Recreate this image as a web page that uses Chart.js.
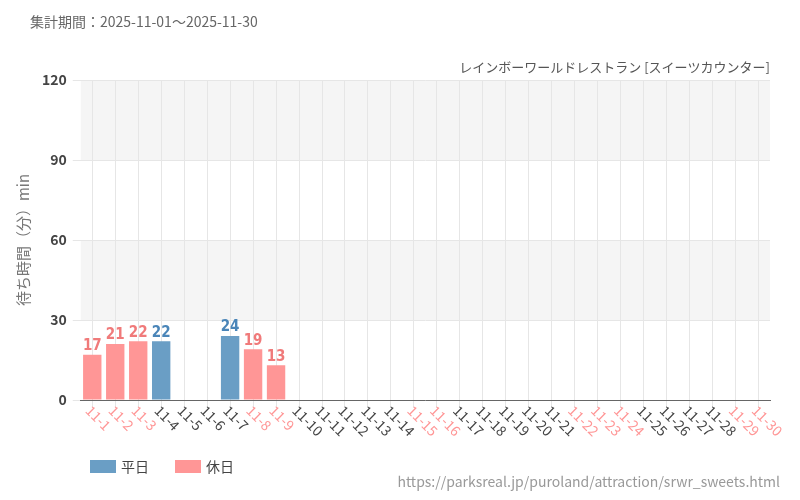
<!DOCTYPE html>
<html><head><meta charset="utf-8">
<script src="https://cdn.jsdelivr.net/npm/chart.js@4"></script>
<style>body{margin:0;background:#fff}#w{width:800px;height:500px}</style>
</head><body><div id="w"><canvas id="c"></canvas></div>
<script>
const categories=["11-1","11-2","11-3","11-4","11-5","11-6","11-7","11-8","11-9","11-10","11-11","11-12","11-13","11-14","11-15","11-16","11-17","11-18","11-19","11-20","11-21","11-22","11-23","11-24","11-25","11-26","11-27","11-28","11-29","11-30"];
const holidays=["11-1","11-2","11-3","11-8","11-9","11-15","11-16","11-22","11-23","11-24","11-29","11-30"];
const weekdayValues=[null,null,null,22,null,null,24,null,null,null,null,null,null,null,null,null,null,null,null,null,null,null,null,null,null,null,null,null,null,null];
const holidayValues=[17,21,22,null,null,null,null,19,13,null,null,null,null,null,null,null,null,null,null,null,null,null,null,null,null,null,null,null,null,null];
const yTicks=[0,30,60,90,120];
const BLUE='#6a9ec5',PINK='#ff9696',LBLUE='#4a85b8',LPINK='#f07a7a';
const F='"Noto Sans CJK JP","Noto Sans",sans-serif';
const deco={id:'deco',
beforeDraw(ch){const a=ch.chartArea,y=ch.scales.y,c=ch.ctx;c.save();c.fillStyle='#f5f5f5';
[[90,120],[30,60]].forEach(([l,h])=>{c.fillRect(a.left,y.getPixelForValue(h),a.right-a.left,y.getPixelForValue(l)-y.getPixelForValue(h));});c.restore();},
afterDraw(ch){const c=ch.ctx,x=ch.scales.x,a=ch.chartArea;c.save();
c.font='14px '+F;c.fillStyle='#666';c.textBaseline='middle';c.textAlign='left';
c.fillText('集計期間：2025-11-01～2025-11-30',30,22);
c.font='13px '+F;c.fillStyle='#555';c.textAlign='right';
c.fillText('レインボーワールドレストラン [スイーツカウンター]',770,67);
c.font='14px '+F;c.fillStyle='#999';c.fillText('https://parksreal.jp/puroland/attraction/srwr_sweets.html',780,482);
c.textAlign='left';c.fillStyle='#444';
[['平日',BLUE,90],['休日',PINK,175]].forEach(([t,col,lx])=>{c.fillStyle=col;c.fillRect(lx,460,26,13);c.fillStyle='#444';c.fillText(t,lx+31,467);});
c.font='14px '+F;
categories.forEach((l,i)=>{const px=x.getPixelForTick(i);c.save();c.translate(px-4,a.bottom+8);c.rotate(Math.PI/4);
c.fillStyle=holidays.includes(l)?PINK:'#444';c.textAlign='left';c.fillText(l,0,0);c.restore();});
c.font='bold 15px "Liberation Sans Narrow","DejaVu Sans Condensed",sans-serif';c.textAlign='center';c.textBaseline='bottom';
ch.data.datasets.forEach((ds,di)=>{const m=ch.getDatasetMeta(di);ds.data.forEach((v,i)=>{if(v==null)return;
c.fillStyle=di==0?LBLUE:LPINK;c.fillText(v,m.data[i].x,m.data[i].y-1);});});
c.restore();}};
new Chart(document.getElementById('c'),{type:'bar',
data:{labels:categories,datasets:[
{label:'平日',data:weekdayValues,backgroundColor:BLUE,grouped:false,barPercentage:0.8,categoryPercentage:1},
{label:'休日',data:holidayValues,backgroundColor:PINK,grouped:false,barPercentage:0.8,categoryPercentage:1}]},
plugins:[deco],
options:{responsive:true,maintainAspectRatio:false,animation:false,
layout:{padding:{top:80,right:30,left:10,bottom:36}},
plugins:{legend:{display:false},tooltip:{enabled:false}},
scales:{
x:{grid:{color:'#e6e6e6',offset:false},border:{color:'#666'},ticks:{callback:()=>'',},afterFit(s){s.height=64;}},
y:{min:0,max:120,afterBuildTicks(s){s.ticks=yTicks.map(v=>({value:v}));},
grid:{color:'#e6e6e6'},border:{display:false},
ticks:{color:'#444',font:{size:14,weight:'bold',family:F},padding:6},
title:{display:true,text:'待ち時間（分）min',color:'#777',font:{size:15,family:F}}}}}});
</script></body></html>
